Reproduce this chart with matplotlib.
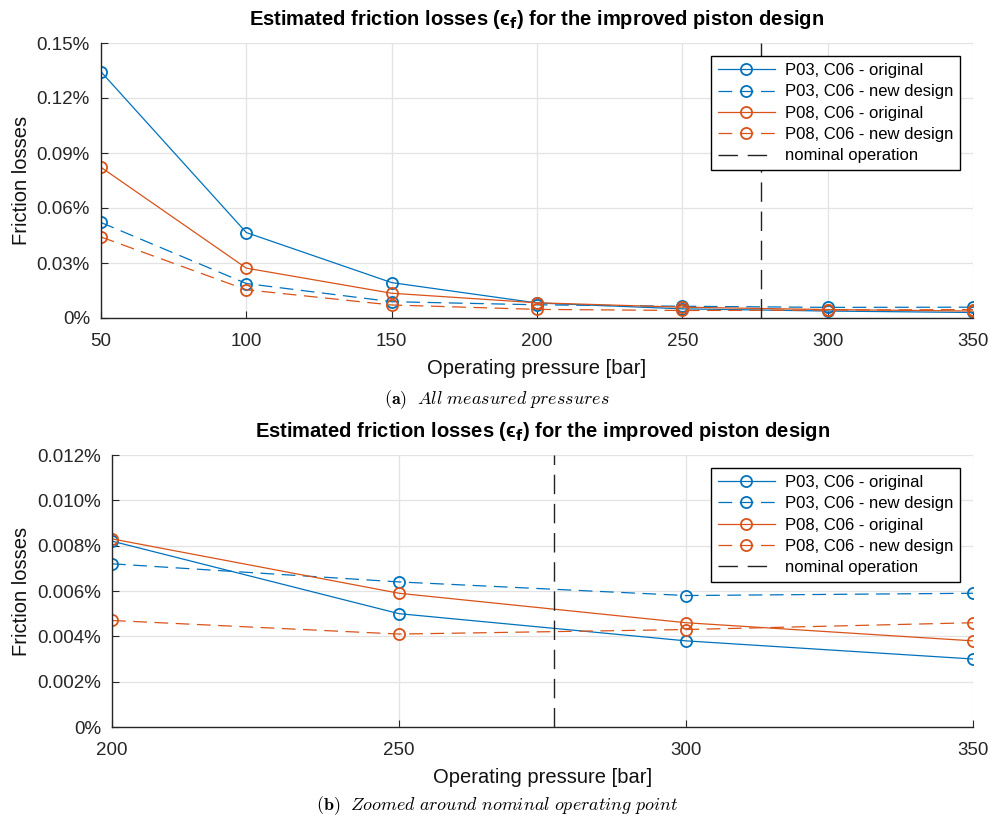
import numpy as np
import matplotlib
matplotlib.use("Agg")
import matplotlib.pyplot as plt
from matplotlib.ticker import FuncFormatter

plt.rcParams['font.family'] = ['Liberation Sans', 'DejaVu Sans']

# measured pressures [bar]
p_all = [50, 100, 150, 200, 250, 300, 350]
p_zoom = [200, 250, 300, 350]

# friction losses [%]
p03_orig = [0.1343, 0.0466, 0.0193, 0.0082, 0.0050, 0.0038, 0.0030]
p03_new = [0.0521, 0.0188, 0.0089, 0.0072, 0.0064, 0.0058, 0.0059]
p08_orig = [0.0822, 0.0272, 0.0135, 0.0083, 0.0059, 0.0046, 0.0038]
p08_new = [0.0442, 0.0154, 0.0071, 0.0047, 0.0041, 0.0043, 0.0046]

nominal = 277  # bar

labels = ['P03, C06 - original', 'P03, C06 - new design',
          'P08, C06 - original', 'P08, C06 - new design']
blue = '#0072BD'
orange = '#D95319'
axcol = '#262626'

title = 'Estimated friction losses (\u03f5$_\\mathbf{f}$) for the improved piston design'

fig = plt.figure(figsize=(9.9, 8.21), dpi=100)
ax1 = fig.add_axes([101/990, 1-318/821, 872/990, 275/821])
ax2 = fig.add_axes([112/990, 1-727/821, 861/990, 272/821])


def draw(ax, idx, xs):
    series = [p03_orig, p03_new, p08_orig, p08_new]
    colors = [blue, blue, orange, orange]
    for k, s in enumerate(series):
        ys = [s[i] for i in idx]
        ln, = ax.plot(xs, ys, color=colors[k], lw=0.9, marker='o', ms=8,
                      mfc='none', mew=1.3, label=labels[k])
        if k % 2 == 1:
            ln.set_dashes((11, 6))
    nl = ax.axvline(nominal, color='#222222', lw=1.0, label='nominal operation')
    nl.set_dashes((14, 7))
    ax.grid(True, color='#e3e3e3', lw=0.9)
    ax.set_axisbelow(True)
    for sp in ['top', 'right']:
        ax.spines[sp].set_visible(False)
    for sp in ['left', 'bottom']:
        ax.spines[sp].set_color(axcol)
        ax.spines[sp].set_linewidth(1.0)
    ax.tick_params(direction='in', colors=axcol, labelsize=13.5, length=5, pad=8)
    ax.tick_params(axis='x', pad=11)
    ax.set_xlabel('Operating pressure [bar]', fontsize=14.5, color='#111111', labelpad=6)
    ax.set_ylabel('Friction losses', fontsize=14.5, color='#111111', labelpad=4)
    ax.set_title(title, fontsize=14.5, fontweight='bold', math_fontfamily='dejavusans', pad=13)
    leg = ax.legend(loc='upper right', fontsize=12, handlelength=3.4,
                    fancybox=False, edgecolor='black', framealpha=1,
                    borderpad=0.4, labelspacing=0.38, handletextpad=0.6,
                    borderaxespad=0.8)
    leg.get_frame().set_linewidth(1.0)


draw(ax1, range(7), p_all)
ax1.set_xlim(50, 350)
ax1.set_ylim(0, 0.15)
ax1.set_xticks(p_all)
ax1.set_yticks(np.arange(0, 0.151, 0.03))
ax1.yaxis.set_major_formatter(FuncFormatter(lambda v, _: '0%' if abs(v) < 1e-9 else f'{v:.2f}%'))

draw(ax2, range(3, 7), p_zoom)
ax2.set_xlim(200, 350)
ax2.set_ylim(0, 0.012)
ax2.set_xticks(p_zoom)
ax2.set_yticks(np.arange(0, 0.0121, 0.002))
ax2.yaxis.set_major_formatter(FuncFormatter(lambda v, _: '0%' if abs(v) < 1e-9 else f'{v:.3f}%'))

fig.text(497/990, 1-400/821, r'$\mathbf{(a)}\ \ \mathit{All\ measured\ pressures}$',
         ha='center', va='center', fontsize=13, math_fontfamily='cm')
fig.text(497/990, 1-806/821, r'$\mathbf{(b)}\ \ \mathit{Zoomed\ around\ nominal\ operating\ point}$',
         ha='center', va='center', fontsize=13, math_fontfamily='cm')

fig.savefig('out.png', dpi=100)
